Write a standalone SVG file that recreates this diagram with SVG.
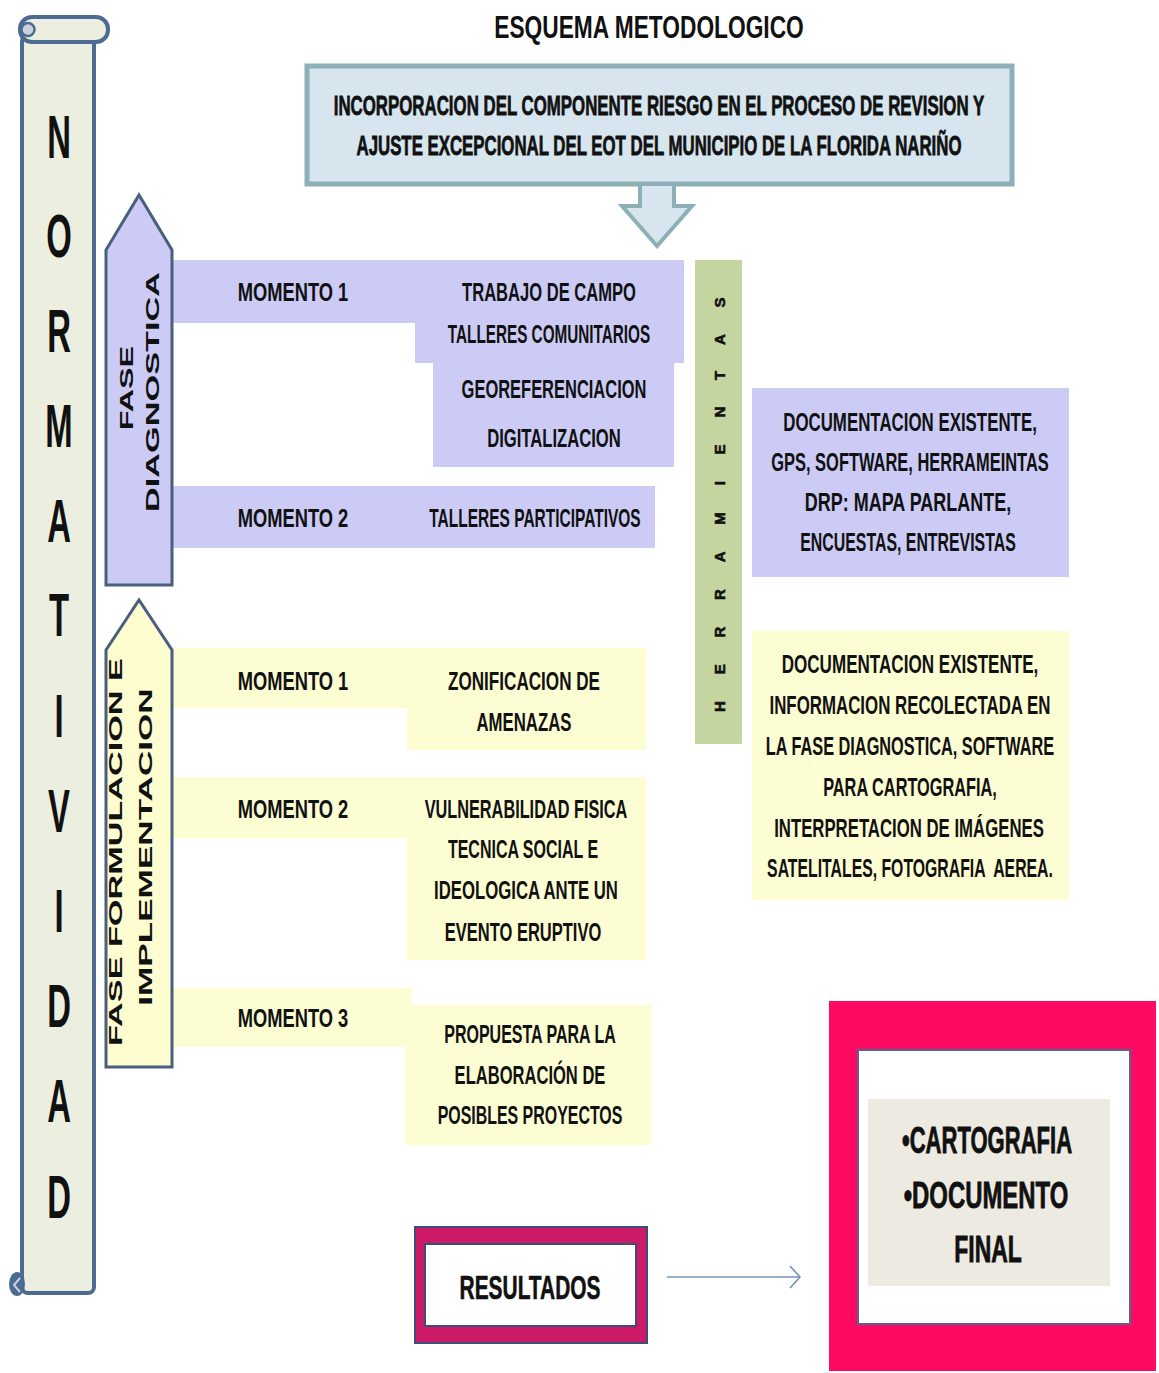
<svg xmlns="http://www.w3.org/2000/svg" width="1159" height="1373" viewBox="0 0 1159 1373">
<style>
.t{font-family:"Liberation Sans",Arial,sans-serif;font-weight:bold;fill:#111;text-anchor:middle}
.m{font-size:26px}
.big{font-size:62px}
.rot{font-size:19px}
.lav{fill:#CBCBF5}
.yel{fill:#FDFDD3}
.scroll{fill:#ECEEDF;stroke:#4B6B93;stroke-width:4}
.phase{stroke:#4A5F7E;stroke-width:3}
.heavy{stroke:#111;stroke-width:0.8}
</style>
<rect width="1159" height="1373" fill="#FFFFFF"/>

<g id="normatividad">
<rect class="scroll" x="22" y="36" width="72" height="1257" rx="6"/>
<rect class="scroll" x="20" y="17" width="88" height="25" rx="12"/>
<circle cx="28" cy="29.5" r="6.5" fill="#C9D2DC" stroke="#4B6B93" stroke-width="2.5"/>
<ellipse cx="17" cy="1284" rx="8" ry="12" fill="#4B6B93"/>
<path d="M20,1278 L14,1285 L20,1292" fill="none" stroke="#C9D2DC" stroke-width="2"/>
<g class="t big">
<text transform="translate(59,158) scale(0.53,1)">N</text>
<text transform="translate(59,257) scale(0.53,1)">O</text>
<text transform="translate(59,352) scale(0.53,1)">R</text>
<text transform="translate(59,447) scale(0.53,1)">M</text>
<text transform="translate(59,542) scale(0.53,1)">A</text>
<text transform="translate(59,636) scale(0.53,1)">T</text>
<text transform="translate(59,737) scale(0.53,1)">I</text>
<text transform="translate(59,832) scale(0.53,1)">V</text>
<text transform="translate(59,932) scale(0.53,1)">I</text>
<text transform="translate(59,1027) scale(0.53,1)">D</text>
<text transform="translate(59,1122) scale(0.53,1)">A</text>
<text transform="translate(59,1218) scale(0.53,1)">D</text>
</g>
</g>

<g id="titulo">
<text class="t" font-size="32" transform="translate(649,38) scale(0.711,1)">ESQUEMA METODOLOGICO</text>
</g>

<g id="objetivo">
<rect x="307" y="66" width="705" height="118" fill="#D6E5EE" stroke="#8DB0B6" stroke-width="5"/>
<text class="t heavy" font-size="28" transform="translate(659,115) scale(0.602,1)">INCORPORACION DEL COMPONENTE RIESGO EN EL PROCESO DE REVISION Y</text>
<text class="t heavy" font-size="28" transform="translate(659,155) scale(0.601,1)">AJUSTE EXCEPCIONAL DEL EOT DEL MUNICIPIO DE LA FLORIDA NARIÑO</text>
</g>

<g id="diagnostico-momento1">
<path class="lav" d="M172,260 L684,260 L684,363 L674,363 L674,467 L433,467 L433,363 L415,363 L415,323 L172,323 Z"/>
<text class="t m" transform="translate(293,301) scale(0.705,1)">MOMENTO 1</text>
<text class="t m" transform="translate(549,301) scale(0.637,1)">TRABAJO DE CAMPO</text>
<text class="t m" transform="translate(549,343) scale(0.588,1)">TALLERES COMUNITARIOS</text>
<text class="t m" transform="translate(554,398) scale(0.634,1)">GEOREFERENCIACION</text>
<text class="t m" transform="translate(554,447) scale(0.640,1)">DIGITALIZACION</text>
</g>

<g id="diagnostico-momento2">
<rect class="lav" x="172" y="486" width="483" height="62"/>
<text class="t m" transform="translate(293,527) scale(0.705,1)">MOMENTO 2</text>
<text class="t m" transform="translate(535,527) scale(0.596,1)">TALLERES PARTICIPATIVOS</text>
</g>

<g id="formulacion-momento1">
<path class="yel" d="M172,648 L646,648 L646,750 L407,750 L407,708 L172,708 Z"/>
<text class="t m" transform="translate(293,690) scale(0.705,1)">MOMENTO 1</text>
<text class="t m" transform="translate(524,690) scale(0.658,1)">ZONIFICACION DE</text>
<text class="t m" transform="translate(524,731) scale(0.645,1)">AMENAZAS</text>
</g>

<g id="formulacion-momento2">
<path class="yel" d="M172,777 L646,777 L646,960 L407,960 L407,838 L172,838 Z"/>
<text class="t m" transform="translate(293,818) scale(0.705,1)">MOMENTO 2</text>
<text class="t m" transform="translate(526,818) scale(0.627,1)">VULNERABILIDAD FISICA</text>
<text class="t m" transform="translate(523,858) scale(0.615,1)">TECNICA SOCIAL E</text>
<text class="t m" transform="translate(526,899) scale(0.644,1)">IDEOLOGICA ANTE UN</text>
<text class="t m" transform="translate(523,941) scale(0.635,1)">EVENTO ERUPTIVO</text>
</g>

<g id="formulacion-momento3">
<path class="yel" d="M172,988 L412,988 L412,1005 L652,1005 L652,1145 L405,1145 L405,1047 L172,1047 Z"/>
<text class="t m" transform="translate(293,1027) scale(0.705,1)">MOMENTO 3</text>
<text class="t m" transform="translate(530,1043) scale(0.615,1)">PROPUESTA PARA LA</text>
<text class="t m" transform="translate(530,1084) scale(0.637,1)">ELABORACIÓN DE</text>
<text class="t m" transform="translate(530,1124) scale(0.613,1)">POSIBLES PROYECTOS</text>
</g>

<g id="fase-diagnostica">
<path class="phase" fill="#CBCBF5" d="M106,250 L139,195 L172,250 L172,585 L106,585 Z"/>
<text class="t rot" transform="translate(133,388) rotate(-90) scale(1.7,1)">FASE</text>
<text class="t rot" transform="translate(159,392) rotate(-90) scale(1.805,1)">DIAGNOSTICA</text>
</g>

<g id="fase-formulacion">
<path class="phase" fill="#FDFDD0" d="M106,650 L139,600 L172,650 L172,1067 L106,1067 Z"/>
<text class="t rot" transform="translate(122,852) rotate(-90) scale(1.802,1)">FASE FORMULACION E</text>
<text class="t rot" transform="translate(152,847) rotate(-90) scale(1.849,1)">IMPLEMENTACION</text>
</g>

<g id="herramientas">
<rect x="695" y="260" width="47" height="484" fill="#C4D59F"/>
<text class="t" font-size="15" stroke="#111" stroke-width="0.6" style="text-anchor:start;letter-spacing:26.8px" transform="translate(724.5,712) rotate(-90)">HERRAMIENTAS</text>
</g>

<g id="herramientas-diagnostico">
<rect class="lav" x="752" y="388" width="317" height="189"/>
<text class="t m" transform="translate(910,431) scale(0.649,1)">DOCUMENTACION EXISTENTE,</text>
<text class="t m" transform="translate(910,471) scale(0.633,1)">GPS, SOFTWARE, HERRAMEINTAS</text>
<text class="t m" transform="translate(908,511) scale(0.692,1)">DRP: MAPA PARLANTE,</text>
<text class="t m" transform="translate(908,551) scale(0.611,1)">ENCUESTAS, ENTREVISTAS</text>
</g>

<g id="herramientas-formulacion">
<rect class="yel" x="752" y="631" width="317" height="269"/>
<text class="t m" transform="translate(910,673) scale(0.657,1)">DOCUMENTACION EXISTENTE,</text>
<text class="t m" transform="translate(910,714) scale(0.649,1)">INFORMACION RECOLECTADA EN</text>
<text class="t m" transform="translate(910,755) scale(0.628,1)">LA FASE DIAGNOSTICA, SOFTWARE</text>
<text class="t m" transform="translate(910,796) scale(0.628,1)">PARA CARTOGRAFIA,</text>
<text class="t m" transform="translate(909,837) scale(0.645,1)">INTERPRETACION DE IMÁGENES</text>
<text class="t m" xml:space="preserve" transform="translate(910,877) scale(0.608,1)">SATELITALES, FOTOGRAFIA  AEREA.</text>
</g>

<g id="resultados">
<rect x="415" y="1227" width="232" height="116" fill="#CC1A66" stroke="#3E4C78" stroke-width="2"/>
<rect x="425" y="1244" width="211" height="82" fill="#FFFFFF" stroke="#3E4C78" stroke-width="2"/>
<text class="t" font-size="33" stroke="#111" stroke-width="0.6" transform="translate(530,1299) scale(0.634,1)">RESULTADOS</text>
</g>

<g id="productos">
<rect x="829" y="1001" width="327" height="370" fill="#FF0A62"/>
<rect x="858" y="1050" width="272" height="274" fill="#FFFFFF" stroke="#56658E" stroke-width="2"/>
<rect x="868" y="1099" width="242" height="187" fill="#ECEAE1"/>
<text class="t heavy" font-size="37" font-weight="normal" transform="translate(987,1153) scale(0.596,1)">•CARTOGRAFIA</text>
<text class="t heavy" font-size="37" font-weight="normal" transform="translate(986,1208) scale(0.646,1)">•DOCUMENTO</text>
<text class="t heavy" font-size="37" font-weight="normal" transform="translate(988,1262) scale(0.62,1)">FINAL</text>
</g>

<g id="connectors">
<path d="M640,186 L640,206 L622,206 L657,246 L692,206 L674,206 L674,186" fill="#D6E5EE" stroke="#8DB0B6" stroke-width="4" stroke-linejoin="miter"/>
<line x1="667" y1="1277" x2="800" y2="1277" stroke="#7393B5" stroke-width="1.6"/>
<polyline points="790,1266 800,1277 790,1288" fill="none" stroke="#7393B5" stroke-width="1.6"/>
</g>
</svg>
